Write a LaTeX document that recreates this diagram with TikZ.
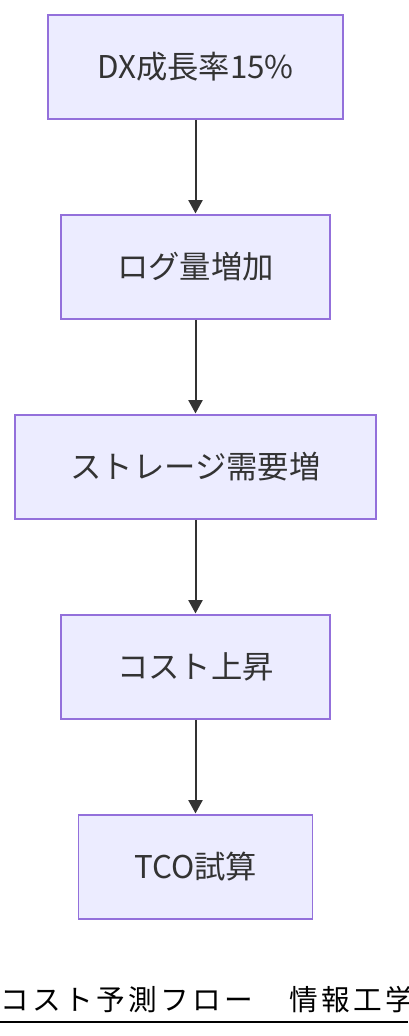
\documentclass[tikz,border=0pt]{standalone}
\usepackage{fontspec}
\setmainfont{Noto Sans CJK JP}
\newfontfamily\titlefont[LetterSpace=12]{Noto Sans CJK JP}
\usetikzlibrary{arrows.meta}
\definecolor{nodefill}{HTML}{ECECFF}
\definecolor{nodeline}{HTML}{9370DB}
\definecolor{edgecol}{HTML}{333333}
\tikzset{
  box/.style={draw=nodeline, fill=nodefill, line width=1.3pt, text=edgecol,
    minimum height={104*0.75pt}, inner sep=0pt, font=\fontsize{23.5pt}{27pt}\selectfont},
  flow/.style={draw=edgecol, line width=1.5pt, -{Triangle[length=10pt,width=10.5pt]}, shorten >=0.5pt}
}
\begin{document}
\begin{tikzpicture}[x=0.75pt,y=-0.75pt]
\useasboundingbox (0,0) rectangle (408,1036);
\clip (0,0) rectangle (408,1036);
\fill[white] (0,0) rectangle (408,1036);
\node[box, minimum width={295*0.75pt}] (n1) at (195.5,67) {DX成長率15\%};
\node[box, minimum width={269*0.75pt}] (n2) at (195.5,267) {ログ量増加};
\node[box, minimum width={361*0.75pt}] (n3) at (195.5,467) {ストレージ需要増};
\node[box, minimum width={269*0.75pt}] (n4) at (195.5,667) {コスト上昇};
\node[box, minimum width={234*0.75pt}] (n5) at (195.5,867) {TCO試算};
\draw[flow] (n1) -- (n2);
\draw[flow] (n2) -- (n3);
\draw[flow] (n3) -- (n4);
\draw[flow] (n4) -- (n5);
\node[anchor=base west, inner sep=0pt, font=\titlefont\fontsize{21.5pt}{24pt}\selectfont] (title) at (0,1010) {コスト予測フロー　情報工学};
\coordinate (ulL) at (0,1022);
\coordinate (ulR) at (408,1022);
\draw[black, line width=1.6pt] (ulL) -- (ulR);
\end{tikzpicture}
\end{document}
